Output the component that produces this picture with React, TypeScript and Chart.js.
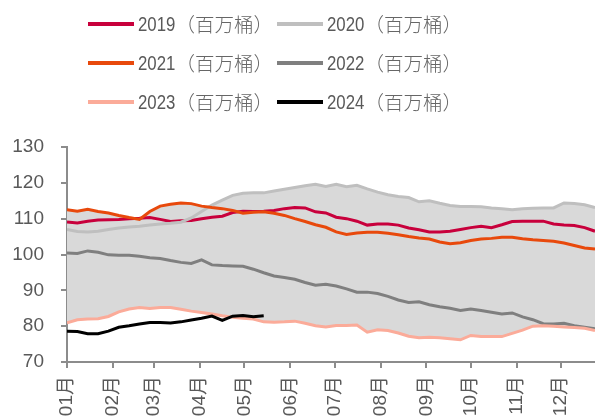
import React, { useEffect, useRef } from 'react';
import { Chart, registerables } from 'chart.js';

Chart.register(...registerables);

// Month labels on the x axis and the day of year each month starts on
const monthLabels = ['01月', '02月', '03月', '04月', '05月', '06月', '07月', '08月', '09月', '10月', '11月', '12月'];
const monthStartDays = [0, 31, 59, 90, 120, 151, 181, 212, 243, 273, 304, 334];

// Weekly inventory, million barrels (week 0 = first week of January)
const s2019 = [
  109.1, 108.8, 109.3, 109.6, 109.7, 109.8, 110.0, 110.1, 110.3, 109.8,
  109.2, 109.4, 109.5, 110.0, 110.4, 110.7, 111.7, 112.1, 112.0, 112.1,
  112.3, 112.8, 113.1, 113.0, 111.9, 111.6, 110.4, 110.0, 109.3, 108.2,
  108.5, 108.5, 108.2, 107.4, 106.9, 106.3, 106.3, 106.5, 107.0, 107.5,
  107.9, 107.5, 108.3, 109.2, 109.3, 109.3, 109.3, 108.5, 108.2, 108.1,
  107.5, 106.5,
];
const s2020 = [
  107.0, 106.4, 106.3, 106.5, 107.0, 107.4, 107.7, 107.9, 108.2, 108.5,
  108.7, 109.0, 110.2, 112.0, 113.8, 115.2, 116.5, 117.1, 117.2, 117.2,
  117.7, 118.2, 118.7, 119.2, 119.6, 119.0, 119.6, 118.9, 119.3, 118.3,
  117.4, 116.7, 116.2, 115.9, 114.7, 115.0, 114.3, 113.7, 113.4, 113.4,
  113.3, 113.0, 112.8, 112.5, 112.8, 112.9, 113.0, 113.0, 114.4, 114.2,
  113.9, 113.1,
];
const s2021 = [
  112.5, 112.1, 112.6, 112.0, 111.6, 110.9, 110.3, 109.8, 112.0, 113.5,
  114.0, 114.4, 114.2, 113.5, 113.1, 112.8, 112.3, 111.5, 111.8, 111.9,
  111.5, 110.9, 110.0, 109.2, 108.3, 107.6, 106.3, 105.6, 106.0, 106.2,
  106.2, 105.9, 105.5, 105.0, 104.6, 104.3, 103.5, 103.0, 103.3, 103.9,
  104.3, 104.5, 104.8, 104.8, 104.4, 104.1, 103.9, 103.7, 103.2, 102.5,
  101.8, 101.5,
];
const s2022 = [
  100.4, 100.3, 101.0, 100.6, 99.9, 99.8, 99.8, 99.5, 99.1, 98.9,
  98.3, 97.8, 97.5, 98.5, 97.1, 96.9, 96.8, 96.7, 95.9, 94.9,
  94.0, 93.6, 93.1, 92.2, 91.4, 91.7, 91.2, 90.4, 89.5, 89.5,
  89.1, 88.3, 87.3, 86.6, 86.8, 86.0, 85.4, 85.0, 84.4, 84.8,
  84.4, 83.9, 83.4, 83.7, 82.6, 81.8, 80.7, 80.6, 80.8, 80.1,
  79.7, 79.3,
];
const s2023 = [
  80.9, 81.8, 82.0, 82.1, 82.7, 84.0, 84.8, 85.2, 84.9, 85.2,
  85.2, 84.7, 84.2, 83.8, 83.4, 82.9, 82.5, 82.2, 82.0, 81.2,
  81.1, 81.2, 81.4, 80.8, 80.1, 79.8, 80.2, 80.2, 80.3, 78.3,
  79.0, 78.8, 78.1, 77.2, 76.8, 76.9, 76.8, 76.5, 76.2, 77.4,
  77.1, 77.1, 77.1, 78.0, 78.9, 80.0, 80.1, 80.0, 79.8, 79.6,
  79.4, 78.8,
];
const s2024 = [
  78.6, 78.5, 77.9, 77.9, 78.6, 79.7, 80.1, 80.6, 81.0, 81.0,
  80.9, 81.2, 81.7, 82.2, 82.8, 81.6, 82.8, 83.0, 82.6, 82.9,
];

const seriesYears = ['2019', '2020', '2021', '2022', '2023', '2024'];
const seriesUnit = '（百万桶）';
const seriesColors = ['#c8003c', '#bfbfbf', '#e8490c', '#7f7f7f', '#fbab99', '#000000'];
const seriesValues = [s2019, s2020, s2021, s2022, s2023, s2024];

const FONT = '"Liberation Sans", Arial, "Noto Sans CJK SC", sans-serif';
const CJK_FONT = '"Noto Sans CJK SC", sans-serif';

const toPoints = (arr: number[]) => arr.map((v, i) => ({ x: i, y: v }));

export default function App() {
  const canvasRef = useRef<HTMLCanvasElement | null>(null);

  useEffect(() => {
    document.body.style.margin = '0';
    const canvas = canvasRef.current;
    if (!canvas) return;

    // Five-year range (2019–2023) shaded behind the lines
    const history = [s2019, s2020, s2021, s2022, s2023];
    const bandHigh = s2019.map((_, i) => Math.max(...history.map((s) => s[i])));
    const bandLow = s2019.map((_, i) => Math.min(...history.map((s) => s[i])));
    const monthPos = monthStartDays.map((d) => d / 7);

    const lineSets = seriesValues.map((vals, k) => ({
      label: seriesYears[k] + seriesUnit,
      data: toPoints(vals),
      borderColor: seriesColors[k],
      backgroundColor: seriesColors[k],
      borderWidth: 3,
      pointRadius: 0,
      tension: 0,
      fill: false,
      order: k === 5 ? 0 : 6 - k,
    }));

    const chart = new Chart(canvas, {
      type: 'line',
      data: {
        datasets: [
          ...lineSets,
          {
            label: 'rangeHigh',
            data: toPoints(bandHigh),
            borderWidth: 0,
            borderColor: 'rgba(0,0,0,0)',
            pointRadius: 0,
            backgroundColor: '#d9d9d9',
            fill: '+1',
            order: 20,
          },
          {
            label: 'rangeLow',
            data: toPoints(bandLow),
            borderWidth: 0,
            borderColor: 'rgba(0,0,0,0)',
            pointRadius: 0,
            fill: false,
            order: 21,
          },
        ],
      },
      options: {
        animation: false,
        responsive: false,
        devicePixelRatio: 1,
        layout: { padding: { top: 147, right: 0, left: 0, bottom: 0 } },
        plugins: {
          legend: { display: false },
          tooltip: { enabled: false },
        },
        scales: {
          x: {
            type: 'linear',
            min: 0,
            max: 51,
            afterBuildTicks: (scale: any) => {
              scale.ticks = monthPos.map((v) => ({ value: v }));
            },
            afterFit: (scale: any) => {
              scale.height = 57;
            },
            border: { display: true, color: '#8c8c8c', width: 2 },
            grid: { drawOnChartArea: false, drawTicks: true, tickLength: 6, color: '#8c8c8c', lineWidth: 2 },
            ticks: {
              autoSkip: false,
              minRotation: 90,
              maxRotation: 90,
              padding: 8,
              color: '#595959',
              font: { family: FONT, size: 19 },
              callback: (_v: any, i: number) => monthLabels[i],
            },
          },
          y: {
            min: 70,
            max: 130,
            afterFit: (scale: any) => {
              scale.width = 67;
            },
            border: { display: true, color: '#8c8c8c', width: 2 },
            grid: { drawOnChartArea: false, drawTicks: true, tickLength: 6, color: '#8c8c8c', lineWidth: 2 },
            ticks: {
              stepSize: 10,
              padding: 17,
              color: '#595959',
              font: { family: FONT, size: 19 },
            },
          },
        },
      },
    });

    return () => chart.destroy();
  }, []);

  // Legend: three rows, two columns
  const legendCols = [88, 277];
  const legendRows = [23.5, 62.5, 102];

  return (
    <div style={{ position: 'fixed', left: 0, top: 0, width: 595, height: 419, background: '#fff', overflow: 'hidden' }}>
      <canvas ref={canvasRef} width={595} height={419} style={{ position: 'absolute', left: 0, top: 0, width: 595, height: 419 }} />
      {seriesYears.map((year, k) => {
        const col = k % 2;
        const row = Math.floor(k / 2);
        return (
          <div
            key={year}
            style={{
              position: 'absolute',
              left: legendCols[col],
              top: legendRows[row] - 15,
              height: 30,
              display: 'flex',
              alignItems: 'center',
              whiteSpace: 'nowrap',
              color: '#595959',
            }}
          >
            <span style={{ display: 'inline-block', width: 46, height: 4, background: seriesColors[k], marginRight: 4 }} />
            <span
              style={{
                display: 'inline-block',
                fontFamily: FONT,
                fontSize: 20,
                lineHeight: '22px',
                transform: 'scaleX(0.84)',
                transformOrigin: 'left center',
                marginRight: -7,
              }}
            >
              {year}
            </span>
            <span style={{ fontFamily: CJK_FONT, fontWeight: 300, fontSize: 19.5, lineHeight: '22px', color: '#666666' }}>
              {seriesUnit}
            </span>
          </div>
        );
      })}
    </div>
  );
}
